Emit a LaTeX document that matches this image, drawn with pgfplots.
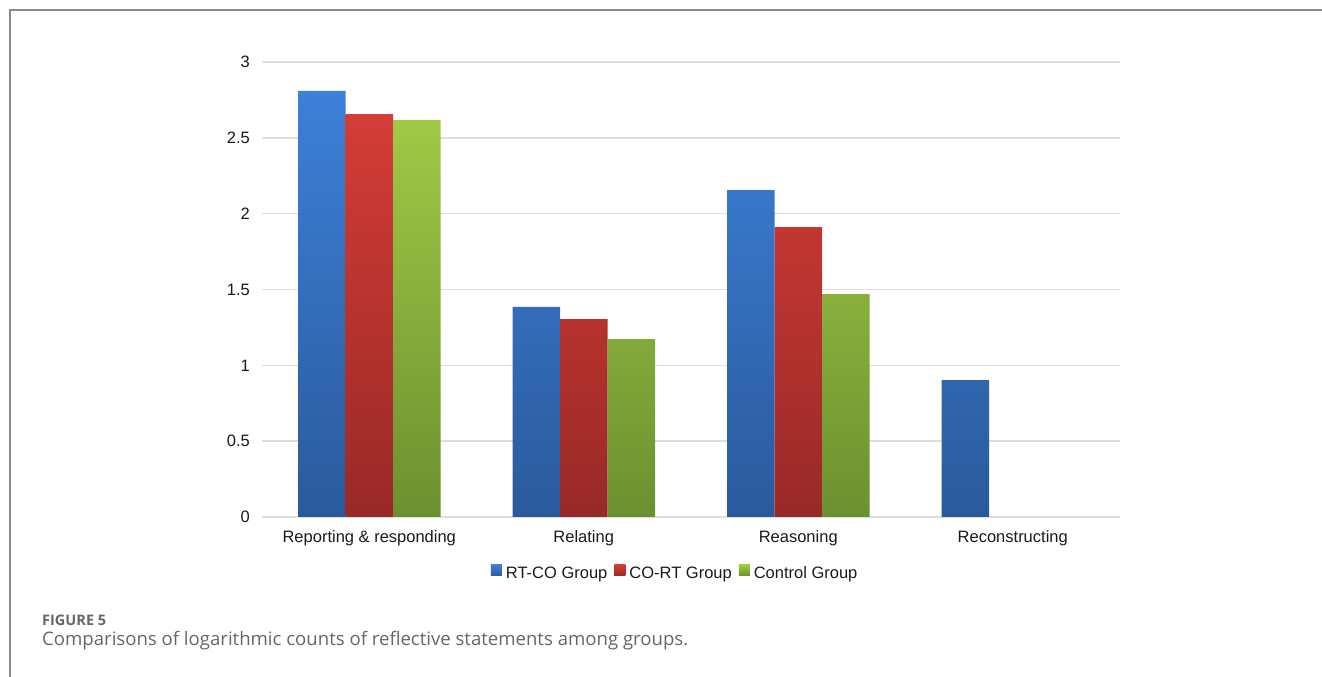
\documentclass[border=0pt]{standalone}
\usepackage{fontspec}
\setmainfont{Liberation Sans}
\newfontfamily\capfont{Open Sans}
\usepackage{graphicx}
\usepackage{pgfplots}
\pgfplotsset{compat=1.18}
\definecolor{blueT}{HTML}{3D80D8}
\definecolor{blueB}{HTML}{2A5A9C}
\definecolor{redT}{HTML}{D43C37}
\definecolor{redB}{HTML}{982927}
\definecolor{greenT}{HTML}{A0C946}
\definecolor{greenB}{HTML}{6C9030}
\definecolor{frame}{HTML}{8A8A8A}
\definecolor{gridc}{HTML}{DEDEDE}
\definecolor{capgray}{HTML}{666666}
\definecolor{txt}{HTML}{1A1A1A}
\begin{document}
\begin{tikzpicture}[x=1pt,y=1pt]
\useasboundingbox (0,0) rectangle (1322,677);
\draw[color=frame, line width=2pt] (10,-5) -- (10,667) -- (1330,667);
\begin{axis}[
  at={(262pt,160pt)}, anchor=south west,
  scale only axis, width=858pt, height=455pt,
  xmin=-0.5, xmax=3.5, ymin=0, ymax=3,
  ybar=0pt, bar width=47.5pt,
  xtick={0,1,2,3},
  xticklabels={Reporting \& responding, Relating, Reasoning, Reconstructing},
  ytick={0,0.5,1,1.5,2,2.5,3},
  ymajorgrids,
  grid style={color=gridc, line width=1.5pt},
  axis line style={draw=none},
  major tick length=0pt,
  tick label style={font=\fontsize{16.5}{19}\selectfont, text=txt},
  /pgf/number format/assume math mode=true,
  yticklabel style={anchor=east, inner sep=0pt, xshift=-12pt},
  xticklabel style={anchor=base, inner sep=0pt, yshift=-26pt},
  legend columns=3,
  legend style={draw=none, fill=none, at={(0.481,-0.125)}, anchor=center,
    font=\fontsize{16.5}{19}\selectfont, text=txt,
    /tikz/every odd column/.append style={column sep=3pt},
    /tikz/every even column/.append style={column sep=6pt},
    nodes={inner sep=1pt, text height=12pt, text depth=3.5pt}},
]
\addplot[draw=none, shade, top color=blueT, bottom color=blueB,
  legend image code/.code={\fill[blueT!80!blueB] (0pt,-2pt) rectangle (11pt,9pt);}]
  coordinates {(0,2.81) (1,1.385) (2,2.156) (3,0.903)};
\addplot[draw=none, shade, top color=redT, bottom color=redB,
  legend image code/.code={\fill[redT!80!redB] (0pt,-2pt) rectangle (11pt,9pt);}]
  coordinates {(0,2.657) (1,1.305) (2,1.912)};
\addplot[draw=none, shade, top color=greenT, bottom color=greenB,
  legend image code/.code={\fill[greenT!80!greenB] (0pt,-2pt) rectangle (11pt,9pt);}]
  coordinates {(0,2.617) (1,1.173) (2,1.470)};
\legend{RT-CO Group, CO-RT Group, Control Group}
\end{axis}
\node[anchor=base west, inner sep=0pt, text=capgray] at (42,51) {\resizebox{64pt}{!}{\capfont\bfseries FIGURE 5}};
\node[anchor=base west, inner sep=0pt, text=capgray] at (42,31) {\resizebox{646pt}{!}{\capfont Comparisons of logarithmic counts of reflective statements among groups.}};
\end{tikzpicture}
\end{document}
